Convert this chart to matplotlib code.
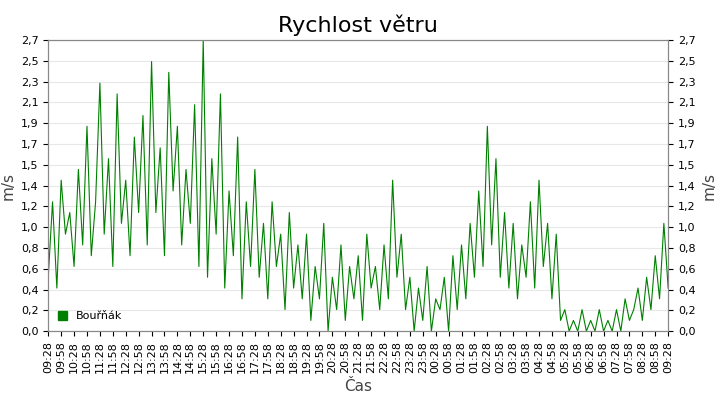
import numpy as np
from matplotlib import pyplot as plt
from matplotlib.patches import Patch

# wind speed (m/s), one value per 10 minutes starting 09:28
speed = [0.5,1.2,0.4,1.4,0.9,1.1,0.6,1.5,0.8,1.9,0.7,1.2,
         2.3,0.9,1.6,0.6,2.2,1.0,1.4,0.7,1.8,1.1,2.0,0.8,
         2.5,1.1,1.7,0.7,2.4,1.3,1.9,0.8,1.5,1.0,2.1,0.6,
         2.7,0.5,1.6,0.9,2.2,0.4,1.3,0.7,1.8,0.3,1.2,0.6,
         1.5,0.5,1.0,0.3,1.2,0.6,0.9,0.2,1.1,0.4,0.8,0.3,
         0.9,0.1,0.6,0.3,1.0,0.0,0.5,0.2,0.8,0.1,0.6,0.3,
         0.7,0.1,0.9,0.4,0.6,0.2,0.8,0.3,1.4,0.5,0.9,0.2,
         0.5,0.0,0.4,0.1,0.6,0.0,0.3,0.2,0.5,0.0,0.7,0.2,
         0.8,0.3,1.0,0.5,1.3,0.6,1.9,0.8,1.6,0.5,1.1,0.4,
         1.0,0.3,0.8,0.5,1.2,0.4,1.4,0.6,1.0,0.3,0.9,0.1,
         0.2,0.0,0.1,0.0,0.2,0.0,0.1,0.0,0.2,0.0,0.1,0.0,
         0.2,0.0,0.3,0.1,0.2,0.4,0.1,0.5,0.2,0.7,0.3,1.0,0.4]
minutes = np.arange(len(speed)) * 10
start_min = 9 * 60 + 28
tick_pos = np.arange(0, 1441, 30)
tick_labels = ["%02d:%02d" % (((start_min + t) // 60) % 24, (start_min + t) % 60) for t in tick_pos]
y_ticks = np.linspace(0, 2.7, 15)
y_labels = [("%.1f" % v).replace(".", ",") for v in y_ticks]

fig, ax = plt.subplots(figsize=(7.2, 4.0), dpi=100)
fig.subplots_adjust(left=0.067, right=0.928, top=0.9, bottom=0.172)

ax.plot(minutes, speed, color="green", lw=0.8)
ax.set_xlim(0, 1440)
ax.set_ylim(0, 2.7)
ax.set_yticks(y_ticks)
ax.set_yticklabels(y_labels, fontsize=8)
ax.set_xticks(tick_pos)
ax.set_xticklabels(tick_labels, rotation=90, fontsize=8)
ax.grid(axis="y", color="#e8e8e8", lw=0.8)
ax.set_axisbelow(True)
ax.set_title("Rychlost větru", fontsize=16)
ax.set_xlabel("Čas", fontsize=11, color="#444444")
ax.set_ylabel("m/s", fontsize=11, color="#444444")

ax2 = ax.twinx()
ax2.set_ylim(0, 2.7)
ax2.set_yticks(y_ticks)
ax2.set_yticklabels(y_labels, fontsize=8)
ax2.set_ylabel("m/s", fontsize=11, color="#444444")

for a in (ax, ax2):
    for s in a.spines.values():
        s.set_color("#888888")

ax.legend(handles=[Patch(color="green", label="Bouřňák")], loc="lower left",
          frameon=False, fontsize=8, handlelength=0.8, handleheight=0.8)

plt.savefig("out.png")
